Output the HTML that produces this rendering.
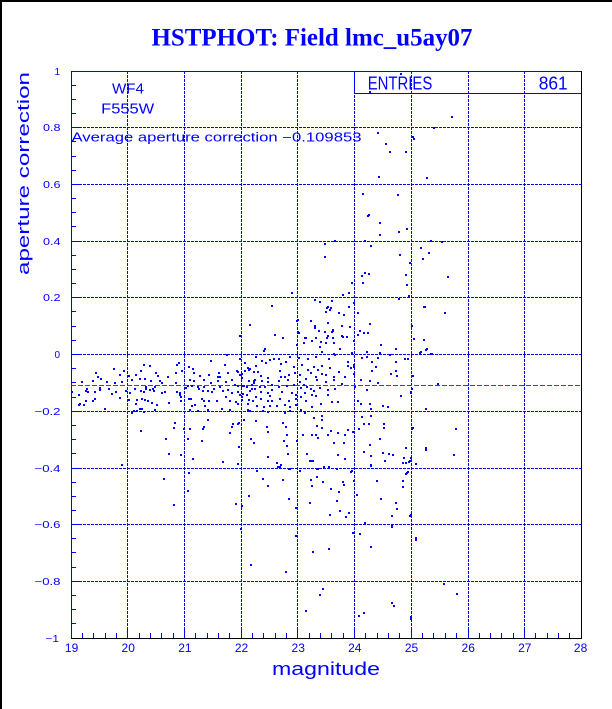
<!DOCTYPE html>
<html><head><meta charset="utf-8"><style>html,body{margin:0;padding:0;background:#fff}svg{display:block}</style></head>
<body>
<svg width="612" height="709" viewBox="0 0 612 709" xmlns="http://www.w3.org/2000/svg">
<rect width="612" height="709" fill="#fff"/>
<path d="M1 0V709M0 1H612" stroke="#000" stroke-width="2"/>
<text x="312" y="45.5" text-anchor="middle" font-family="'Liberation Serif',serif" font-weight="bold" font-size="25" fill="#00f" textLength="321" lengthAdjust="spacingAndGlyphs">HSTPHOT: Field lmc_u5ay07</text>
<path d="M127.5 71V638M184.5 71V638M241.5 71V638M297.5 71V638M354.5 71V638M411.5 71V638M468.5 71V638M524.5 71V638M71 127.5H581M71 184.5H581M71 241.5H581M71 297.5H581M71 354.5H581M71 411.5H581M71 468.5H581M71 524.5H581M71 581.5H581" stroke="#00f" stroke-width="1" stroke-dasharray="3 1" fill="none"/>
<path d="M71 71.5H582M71.5 71V638M354.5 71V94M354 93.5H582" stroke="#00f" stroke-width="1" fill="none"/>
<path d="M581.5 71V639M71 638.5H582" stroke="#000" stroke-width="1" fill="none"/>
<path d="M71 85.5h5M71 99.5h5M71 113.5h5M71 141.5h5M71 156.5h5M71 170.5h5M71 198.5h5M71 212.5h5M71 226.5h5M71 255.5h5M71 269.5h5M71 283.5h5M71 311.5h5M71 326.5h5M71 340.5h5M71 368.5h5M71 382.5h5M71 397.5h5M71 425.5h5M71 439.5h5M71 453.5h5M71 482.5h5M71 496.5h5M71 510.5h5M71 538.5h5M71 552.5h5M71 567.5h5M71 595.5h5M71 609.5h5M71 623.5h5M71 127.5h9M71 184.5h9M71 241.5h9M71 297.5h9M71 354.5h9M71 411.5h9M71 468.5h9M71 524.5h9M71 581.5h9M82.5 638v-5M93.5 638v-5M105.5 638v-5M116.5 638v-5M139.5 638v-5M150.5 638v-5M161.5 638v-5M173.5 638v-5M195.5 638v-5M207.5 638v-5M218.5 638v-5M229.5 638v-5M252.5 638v-5M263.5 638v-5M275.5 638v-5M286.5 638v-5M309.5 638v-5M320.5 638v-5M331.5 638v-5M343.5 638v-5M365.5 638v-5M377.5 638v-5M388.5 638v-5M399.5 638v-5M422.5 638v-5M433.5 638v-5M445.5 638v-5M456.5 638v-5M479.5 638v-5M490.5 638v-5M501.5 638v-5M513.5 638v-5M535.5 638v-5M547.5 638v-5M558.5 638v-5M569.5 638v-5M127.5 638v-10M184.5 638v-10M241.5 638v-10M297.5 638v-10M354.5 638v-10M411.5 638v-10M468.5 638v-10M524.5 638v-10" stroke="#00f" stroke-width="1" fill="none"/>
<path d="M71 385.5H581" stroke="#dd1111" stroke-width="1" stroke-dasharray="5 2" fill="none"/>
<path stroke="#00f" stroke-width="2" fill="none" d="M240 336h2M226 355h2M239 359h2M244 363h2M210 361h2M178 363h2M176 365h2M143 365h2M149 366h2M188 367h2M224 365h2M113 369h2M123 371h2M140 371h2M192 369h2M181 371h2M247 368h2M227 373h2M237 372h2M95 373h2M119 375h2M128 376h2M135 375h2M155 373h2M157 376h2M167 377h2M175 373h2M193 373h2M199 376h2M208 375h2M218 373h2M217 377h2M239 375h2M244 371h2M249 369h2M97 377h2M100 379h2M92 381h2M81 382h2M106 382h2M114 383h2M121 382h2M131 380h2M139 379h2M144 379h2M150 381h2M159 381h2M161 383h2M175 383h2M189 380h2M193 381h2M203 380h2M210 383h2M217 381h2M219 377h2M225 382h2M231 380h2M241 378h2M248 381h2M253 381h2M234 385h2M241 386h2M246 387h2M253 383h2M71 392h2M86 389h2M85 391h2M87 392h2M94 392h2M99 390h2M99 388h2M108 389h2M111 394h2M115 392h2M125 391h2M129 393h2M134 389h2M140 391h2M143 392h2M145 389h2M145 387h2M149 390h2M152 389h2M154 387h2M153 391h2M161 393h2M164 392h2M176 392h2M179 393h2M179 395h2M180 397h2M185 388h2M187 386h2M191 386h2M197 387h2M198 389h2M203 387h2M202 391h2M207 391h2M211 392h2M213 389h2M219 387h2M222 391h2M227 390h2M231 393h2M237 392h2M239 395h2M241 397h2M242 394h2M246 395h2M249 391h2M251 389h2M78 395h2M85 401h2M92 401h2M94 399h2M79 404h2M78 405h2M83 405h2M119 398h2M128 400h2M135 404h2M136 400h2M141 399h2M144 400h2M147 401h2M151 403h2M156 405h2M168 403h2M180 401h2M188 399h2M190 399h2M191 406h2M194 405h2M201 399h2M203 401h2M204 406h2M208 401h2M216 401h2M225 397h2M229 401h2M235 402h2M237 404h2M241 400h2M247 404h2M248 400h2M252 401h2M104 409h2M131 413h2M133 411h2M136 411h2M139 409h2M141 409h2M143 412h2M154 410h2M189 410h2M197 411h2M207 410h2M221 409h2M229 410h2M247 410h2M249 411h2M243 420h2M207 420h2M174 423h2M173 428h2M183 429h2M189 429h2M202 429h2M203 427h2M232 424h2M237 424h2M231 427h2M229 433h2M140 431h2M165 439h2M187 439h2M201 441h2M250 439h2M253 443h2M238 447h2M168 454h2M180 455h2M192 459h2M222 462h2M237 464h2M121 465h2M188 473h2M163 479h2
M351 283h2M362 283h2M406 285h2M291 293h2M342 295h2M348 293h2M408 296h2M398 299h2M314 300h2M319 302h2M331 301h2M271 306h2M327 307h2M348 307h2M353 303h2M423 307h2M325 312h2M329 310h2M338 313h2M343 315h2M357 313h2M310 321h2M249 325h2M296 321h2M327 323h2M341 326h2M349 327h2M369 324h2M411 326h2M314 328h2M297 332h2M324 332h2M332 331h2M359 331h2M363 333h2M367 333h2M274 335h2M282 338h2M305 338h2M311 341h2M315 338h2M320 342h2M327 336h2M332 338h2M341 336h2M353 341h2M357 335h2M423 340h2M296 345h2M303 343h2M325 343h2M333 343h2M264 349h2M263 351h2M319 347h2M339 349h2M380 345h2M425 350h2M321 352h2M333 354h2M351 353h2M366 352h2M379 353h2M389 355h2M395 349h2M419 353h2M430 354h2M255 357h2M269 360h2M278 359h2M285 362h2M289 357h2M298 358h2M307 359h2M315 357h2M328 359h2M334 355h2M347 362h2M353 365h2M361 358h2M366 357h2M371 362h2M377 358h2M395 362h2M404 359h2M407 359h2M255 366h2M261 361h2M265 363h2M273 359h2M280 364h2M293 367h2M301 365h2M307 370h2M313 367h2M317 370h2M321 366h2M329 368h2M347 366h2M350 368h2M353 367h2M371 371h2M375 367h2M395 371h2M396 376h2M390 374h2M236 371h2M241 374h2M248 370h2M253 372h2M257 372h2M260 376h2M267 378h2M279 371h2M280 377h2M284 377h2M288 375h2M294 373h2M299 375h2M305 379h2M310 373h2M315 377h2M321 374h2M325 375h2M333 377h2M338 372h2M344 377h2M353 374h2M254 380h2M261 381h2M267 382h2M278 381h2M287 380h2M299 382h2M303 385h2M316 380h2M325 382h2M333 380h2M341 384h2M360 380h2M369 381h2M377 383h2M237 386h2M243 386h2M251 385h2M254 389h2M259 387h2M264 387h2M271 385h2M278 387h2M286 386h2M293 385h2M300 388h2M306 387h2M310 389h2M313 391h2M319 388h2M327 390h2M334 389h2M354 387h2M366 390h2M260 392h2M267 393h2M269 396h2M271 390h2M281 392h2M291 393h2M295 395h2M300 397h2M304 393h2M311 395h2M315 396h2M327 395h2M400 396h2M410 393h2M255 397h2M260 399h2M267 401h2M271 401h2M279 399h2M288 401h2M295 399h2M305 401h2M320 404h2M331 402h2M337 402h2M357 401h2M360 404h2M369 404h2M256 406h2M263 407h2M269 406h2M276 406h2M284 405h2M289 407h2M295 405h2M300 410h2M311 407h2M370 409h2M382 406h2M387 407h2M425 409h2M262 411h2M267 412h2M284 413h2M289 411h2M304 413h2M238 423h2M255 421h2M282 423h2M313 418h2M321 416h2M361 417h2M370 416h2M321 420h2M363 424h2M368 424h2M383 424h2M266 427h2M285 427h2M316 426h2M321 428h2M358 429h2M411 429h2M383 428h2M347 430h2M352 432h2M330 431h2M337 433h2M267 432h2M286 435h2M302 435h2M311 435h2M315 435h2M317 438h2M327 435h2M344 435h2M379 439h2M283 441h2M296 441h2M333 443h2M343 443h2M369 445h2M405 448h2M286 446h2M425 450h2M363 452h2M382 453h2M388 454h2M392 455h2M370 456h2M267 457h2M287 454h2M306 454h2M337 455h2M344 459h2M309 461h2M311 461h2M384 461h2M403 458h2M402 463h2M405 463h2M409 461h2M276 463h2M279 467h2M277 467h2M289 469h2M323 467h2M316 469h2M328 467h2M370 465h2M299 471h2M407 472h2M256 471h2M262 479h2M316 477h2M351 471h2M415 464h2
M187 491h2M173 505h2M235 504h2M241 506h2M248 496h2M240 529h2M250 565h2
M369 92h2M400 74h2M451 117h2M433 128h2M377 133h2M412 137h2M413 139h2M385 144h2M389 152h2M405 152h2M378 177h2M426 178h2M362 194h2M397 195h2M368 215h2M367 216h2M379 223h2M406 229h2M398 232h2M379 235h2M334 241h2M324 244h2M364 241h2M370 246h2M430 241h2M441 242h2M420 248h2M428 253h2M399 255h2M422 259h2M324 257h2M409 263h2M368 274h2M364 273h2M361 276h2M405 275h2M447 277h2
M326 308h2M330 308h2M297 320h2M314 326h2M239 336h2M298 333h2M304 338h2M318 331h2M326 338h2M332 330h2M331 332h2M342 337h2M346 337h2
M424 307h2M444 313h2M413 339h2M426 349h2M420 352h2M431 354h2M412 376h2M437 384h2M411 389h2M410 392h2M412 428h2M455 429h2M425 448h2M453 455h2M410 458h2M410 515h2M415 538h2M443 584h2M456 594h2M410 617h2
M276 463h2M280 465h2M288 469h2M312 461h2M317 469h2M323 467h2M336 469h2M350 472h2M370 466h2M384 461h2M402 463h2M408 462h2M267 486h2M282 480h2M310 480h2M311 486h2M322 482h2M330 489h2M342 482h2M343 485h2M338 492h2M353 481h2M356 495h2M376 481h2M402 481h2M402 487h2M405 474h2M406 473h2M288 499h2M295 508h2M309 503h2M336 501h2M329 515h2M339 511h2M348 513h2M345 517h2M380 499h2M395 503h2M396 509h2M391 516h2M409 516h2M364 523h2M391 525h2M391 527h2M352 533h2M359 534h2M295 536h2M415 540h2M370 547h2M328 549h2M312 552h2M285 572h2M322 589h2M319 595h2M391 603h2M393 606h2M305 611h2M363 613h2M358 616h2M410 619h2"/>
<g font-family="'Liberation Sans',sans-serif" fill="#00f">
<g font-size="10" text-anchor="end">
<text x="60" y="75">1</text>
<text x="60.5" y="131" textLength="17.5" lengthAdjust="spacingAndGlyphs">0.8</text>
<text x="60.5" y="188" textLength="17.5" lengthAdjust="spacingAndGlyphs">0.6</text>
<text x="60.5" y="245" textLength="17.5" lengthAdjust="spacingAndGlyphs">0.4</text>
<text x="60.5" y="301" textLength="17.5" lengthAdjust="spacingAndGlyphs">0.2</text>
<text x="60" y="358">0</text>
<text x="60.5" y="415" textLength="26" lengthAdjust="spacingAndGlyphs">−0.2</text>
<text x="60.5" y="472" textLength="26" lengthAdjust="spacingAndGlyphs">−0.4</text>
<text x="60.5" y="528" textLength="26" lengthAdjust="spacingAndGlyphs">−0.6</text>
<text x="60.5" y="585" textLength="26" lengthAdjust="spacingAndGlyphs">−0.8</text>
<text x="59" y="642" textLength="13.5" lengthAdjust="spacingAndGlyphs">−1</text>
</g>
<g font-size="12" text-anchor="middle">
<text x="71.6" y="652">19</text>
<text x="128.2" y="652">20</text>
<text x="184.9" y="652">21</text>
<text x="241.5" y="652">22</text>
<text x="298.2" y="652">23</text>
<text x="354.8" y="652">24</text>
<text x="411.5" y="652">25</text>
<text x="468.2" y="652">26</text>
<text x="524.8" y="652">27</text>
<text x="580.6" y="652">28</text>
</g>
<text x="326" y="675" font-size="18" text-anchor="middle" textLength="108" lengthAdjust="spacingAndGlyphs">magnitude</text>
<text transform="translate(29,173.5) rotate(-90)" x="0" y="0" font-size="17" text-anchor="middle" textLength="203" lengthAdjust="spacingAndGlyphs">aperture correction</text>
<text x="128" y="93.3" font-size="15" text-anchor="middle" textLength="32" lengthAdjust="spacingAndGlyphs">WF4</text>
<text x="127.7" y="113.3" font-size="15" text-anchor="middle" textLength="53" lengthAdjust="spacingAndGlyphs">F555W</text>
<text x="71.5" y="141.7" font-size="12.5" textLength="290" lengthAdjust="spacingAndGlyphs">Average aperture correction −0.109853</text>
<text x="367.7" y="89.3" font-size="18" textLength="64.6" lengthAdjust="spacingAndGlyphs">ENTRIES</text>
<text x="538.7" y="89.3" font-size="18" textLength="29" lengthAdjust="spacingAndGlyphs">861</text>
</g>
</svg>
</body></html>
